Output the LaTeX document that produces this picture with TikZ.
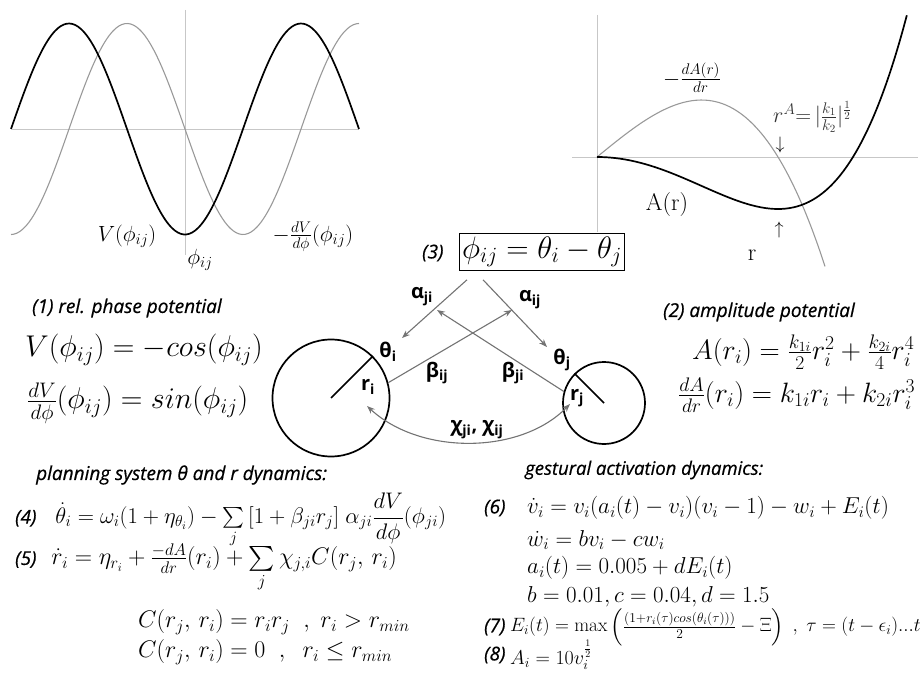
\documentclass[tikz,border=0pt]{standalone}
\usepackage{fix-cm}
\usepackage{amsmath}
\usepackage{fontspec}
\newfontfamily\capfont{Open Sans}[ItalicFeatures={FakeBold=0.6}]
\usetikzlibrary{arrows.meta}
\newcommand{\fs}[1]{\fontsize{#1}{#1}\selectfont}

\begin{document}
\begin{tikzpicture}[x=1pt,y=-1pt,
  axis/.style={black!22,line width=0.6pt},
  pot/.style={black,line width=1.7pt},
  der/.style={black!40,line width=1.1pt},
  captext/.style={font=\fs{19}\capfont\itshape,anchor=west,inner sep=0pt},
  eq/.style={anchor=west,inner sep=0pt},
  lab/.style={font=\fs{20}\capfont\bfseries,inner sep=0pt},
  link/.style={black!55,line width=1.1pt,-{Stealth[length=8pt,width=6pt]}},
  ring/.style={draw,circle,line width=1.7pt,inner sep=0pt}]
\useasboundingbox (0,0) rectangle (924,698);

% relative phase potential
\draw[axis] (12,129) -- (359,129);
\draw[axis] (185,10) -- (185,255);
\draw[der,domain=-270:270,samples=120,smooth] plot ({185+\x/360*232},{129+105.5*sin(\x)});
\draw[pot,domain=-270:270,samples=120,smooth] plot ({185+\x/360*232},{129+105.5*cos(\x)});
\node[font=\fs{22}] (vlab) at (127,236) {$V(\phi_{ij})$};
\node[font=\fs{22}] (dvlab) at (313,237) {$-\frac{dV}{d\phi}(\phi_{ij})$};
\node[font=\fs{22}] (phlab) at (200,260) {$\phi_{ij}$};

% amplitude potential
\draw[axis] (572,157) -- (918,157);
\draw[axis] (597,15) -- (597,232);
\draw[der,domain=0:1.26,samples=80,smooth] plot ({597+181*\x},{157-148*(\x-\x^3)});
\draw[pot,domain=0:1.712,samples=80,smooth] plot ({597+181*\x},{157-52*(\x^4-2*\x^2)});
\node[font=\fs{22}] (dalab) at (692,78) {$-\frac{dA(r)}{dr}$};
\node[eq,font=\fs{22},text=black!80] (rmin) at (773,117) {$r^A{=}\,|\frac{k_1}{k_2}|^{\frac{1}{2}}$};
\node[font=\fs{18}] (dn) at (780,145) {$\downarrow$};
\node[font=\fs{18}] (up) at (779,230) {$\uparrow$};
\node[font=\fs{24}] (alab) at (667,205) {A(r)};
\node[font=\fs{24}] (rlab) at (752,255) {r};

% coupling graph
\node[draw,line width=1.2pt,fill=white,inner sep=3pt,font=\fs{31}] (rel) at (542,252) {$\phi_{ij} = \theta_i - \theta_j$};
\node[captext] (n3) at (422,253) {(3)};
\node[ring,minimum size=117pt] (ci) at (331,398) {};
\node[ring,minimum size=82pt] (cj) at (604,403) {};
\draw[line width=1.7pt] (ci.center) -- (ci.45);
\draw[line width=1.7pt] (cj.center) -- (cj.135);
\node[lab] (thi) at (388,352) {θ\textsubscript{i}};
\node[lab] (ri) at (368,387) {r\textsubscript{i}};
\node[lab] (bij) at (437,373) {β\textsubscript{ij}};
\node[lab] (bji) at (513,373) {β\textsubscript{ji}};
\node[lab] (thj) at (562,360) {θ\textsubscript{j}};
\node[lab] (rj) at (577,398) {r\textsubscript{j}};
\node[lab] (aji) at (422,297) {α\textsubscript{ji}};
\node[lab] (aij) at (530,300) {α\textsubscript{ij}};
\node[lab] (chi) at (477,430) {χ\textsubscript{ji}, χ\textsubscript{ij}};
\coordinate (tiTip) at (402,338);
\coordinate (tjTip) at (547,347);
\coordinate (bijTip) at (512,310);
\coordinate (bjiTip) at (437,310);
\coordinate (chiI) at (367,406);
\coordinate (chiJ) at (570,404);
\draw[link] ([shift={(-75,9)}]rel.south) -- (tiTip);
\draw[link] ([shift={(-59,9)}]rel.south) -- (tjTip);
\draw[link] (ci.15) -- (bijTip);
\draw[link] (cj.164) -- (bjiTip);
\draw[link,{Stealth[length=8pt,width=6pt]}-{Stealth[length=8pt,width=6pt]}] (chiI) .. controls (420,455) and (520,455) .. (chiJ);

% equations (1) and (2)
\node[captext] (t1) at (32,308) {(1) rel. phase potential};
\node[eq,font=\fs{30}] (e1a) at (25,350) {$V(\phi_{ij}) = -cos(\phi_{ij})$};
\node[eq,font=\fs{30}] (e1b) at (27,403) {$\frac{dV}{d\phi}(\phi_{ij}) = sin(\phi_{ij})$};
\node[captext] (t2) at (663,312) {(2) amplitude potential};
\node[eq,font=\fs{28}] (e2a) at (692,352) {$A(r_i) = \frac{k_{1i}}{2}r_i^2 + \frac{k_{2i}}{4}r_i^4$};
\node[eq,font=\fs{28}] (e2b) at (678,395) {$\frac{dA}{dr}(r_i) = k_{1i}r_i + k_{2i}r_i^3$};

% planning dynamics
\node[captext] (t4) at (36,475) {planning system θ and r dynamics:};
\node[eq,font=\fs{22.5}] (e4) at (15,520) {{\capfont\itshape\fs{19}(4)}\hspace{19pt}$\dot{\theta}_i = \omega_i(1+\eta_{\theta_i}) - \sum\limits_j \,[1+\beta_{ji}r_j]\;\alpha_{ji}\dfrac{dV}{d\phi}(\phi_{ji})$};
\node[eq,font=\fs{24}] (e5) at (15,568) {{\capfont\itshape\fs{19}(5)}\hspace{15pt}$\dot{r}_i = \eta_{r_i} + \frac{-dA}{dr}(r_i) + \sum\limits_j \chi_{j,i}C(r_j,\,r_i)$};
\node[eq,font=\fs{24}] (c1) at (138,622) {$C(r_j,\,r_i) = r_ir_j\;\;,\; r_i > r_{min}$};
\node[eq,font=\fs{24}] (c2) at (138,652) {$C(r_j,\,r_i) = 0\;\;,\;\; r_i \le r_{min}$};

% activation dynamics
\node[captext,font=\fs{18.5}\capfont\itshape] (t6) at (525,470) {gestural activation dynamics:};
\node[captext] (n6) at (484,508) {(6)};
\node[eq,font=\fs{23}] (e6) at (527,508) {$\dot{v}_i = v_i(a_i(t)-v_i)(v_i-1) - w_i + E_i(t)$};
\node[eq,font=\fs{23}] (e6b) at (527,540) {$\dot{w}_i = bv_i - cw_i$};
\node[eq,font=\fs{23}] (e6c) at (527,568) {$a_i(t) = 0.005 + dE_i(t)$};
\node[eq,font=\fs{23}] (e6d) at (527,597) {$b = 0.01, c = 0.04, d = 1.5$};
\node[captext] (n7) at (484,627) {(7)};
\node[eq,font=\fs{19.3}] (e7) at (510,627) {$E_i(t) = \max\left(\frac{(1+r_i(\tau)cos(\theta_i(\tau)))}{2} - \Xi\right)\;,\;\tau = (t-\epsilon_i)...t$};
\node[captext] (n8) at (484,655) {(8)};
\node[eq,font=\fs{20}] (e8) at (510,655) {$A_i = 10v_i^{\frac{1}{2}}$};
\end{tikzpicture}
\end{document}
